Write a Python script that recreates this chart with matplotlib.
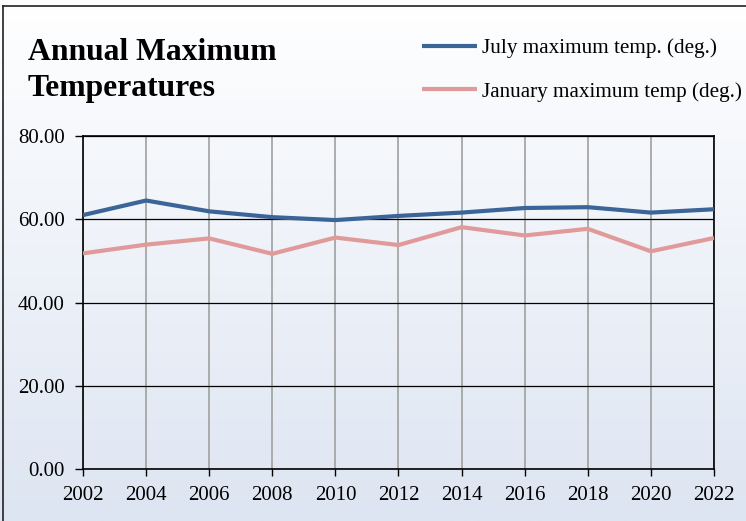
import numpy as np
import matplotlib.pyplot as plt
from matplotlib.lines import Line2D

# datos
anios = [2002, 2004, 2006, 2008, 2010, 2012, 2014, 2016, 2018, 2020, 2022]
julio = [61.0, 64.5, 61.9, 60.5, 59.8, 60.8, 61.6, 62.7, 62.9, 61.6, 62.4]
enero = [51.8, 53.9, 55.4, 51.7, 55.6, 53.8, 58.1, 56.1, 57.7, 52.3, 55.5]
y_ticks = [0, 20, 40, 60, 80]

azul = '#3b6499'
rosa = '#e09a9a'
serif = ['Liberation Serif', 'DejaVu Serif']

fig = plt.figure(figsize=(7.46, 5.21), dpi=100)

# fondo degradado blanco -> azul claro
bg = fig.add_axes([0, 0, 1, 1], zorder=-1)
grad = np.linspace(0, 1, 256)[:, None]
top = np.array([1.0, 1.0, 1.0])
bot = np.array([0xdd, 0xe5, 0xf2]) / 255
img = top + (bot - top) * grad[..., None]
bg.imshow(img, aspect='auto', extent=[0, 1, 0, 1], origin='upper')
bg.set_xlim(0, 1)
bg.set_ylim(0, 1)
bg.axis('off')

# borde del grafico
W, H = 746, 521
fig.add_artist(Line2D([3 / W, 3 / W], [0, 1 - 6 / H], color='#222222', lw=1.2))
fig.add_artist(Line2D([3 / W, 1], [1 - 6 / H, 1 - 6 / H], color='#222222', lw=1.2))

ax = fig.add_axes([83 / W, 1 - 469 / H, (714 - 83) / W, (469 - 136) / H])
ax.set_facecolor('none')

ax.plot(anios, julio, color=azul, lw=3, solid_capstyle='butt', zorder=3,
        label='July maximum temp. (deg.)')
ax.plot(anios, enero, color=rosa, lw=3, solid_capstyle='butt', zorder=3,
        label='January maximum temp (deg.)')

ax.set_xlim(anios[0], anios[-1])
ax.set_ylim(0, 80)
ax.set_xticks(anios)
ax.set_yticks(y_ticks)
ax.set_yticklabels([f'{v:.2f}' for v in y_ticks])

for a in anios:
    ax.axvline(a, color='#a0a0a0', lw=1.2, zorder=1)
for v in y_ticks:
    ax.axhline(v, color='black', lw=0.9, zorder=1)

for s in ax.spines.values():
    s.set_color('black')
    s.set_linewidth(1.2)

ax.tick_params(axis='y', direction='out', length=6, width=1, pad=7, labelsize=15)
ax.tick_params(axis='x', direction='out', length=5, width=1, pad=7, labelsize=15)
for lab in ax.get_xticklabels() + ax.get_yticklabels():
    lab.set_family(serif)

# titulo en dos lineas
fig.text(28 / W, 1 - 60 / H, 'Annual Maximum', family=serif,
         fontweight='bold', fontsize=22.8, va='baseline', ha='left')
fig.text(28 / W, 1 - 96 / H, 'Temperatures', family=serif,
         fontweight='bold', fontsize=22.8, va='baseline', ha='left')

leg = fig.legend(loc='upper left', bbox_to_anchor=(414 / W, 1 - 30 / H),
                 frameon=False, prop={'family': serif, 'size': 15.2},
                 handlelength=2.6, handletextpad=0.2, labelspacing=1.13,
                 borderaxespad=0)

fig.savefig('out.png', dpi=100)
